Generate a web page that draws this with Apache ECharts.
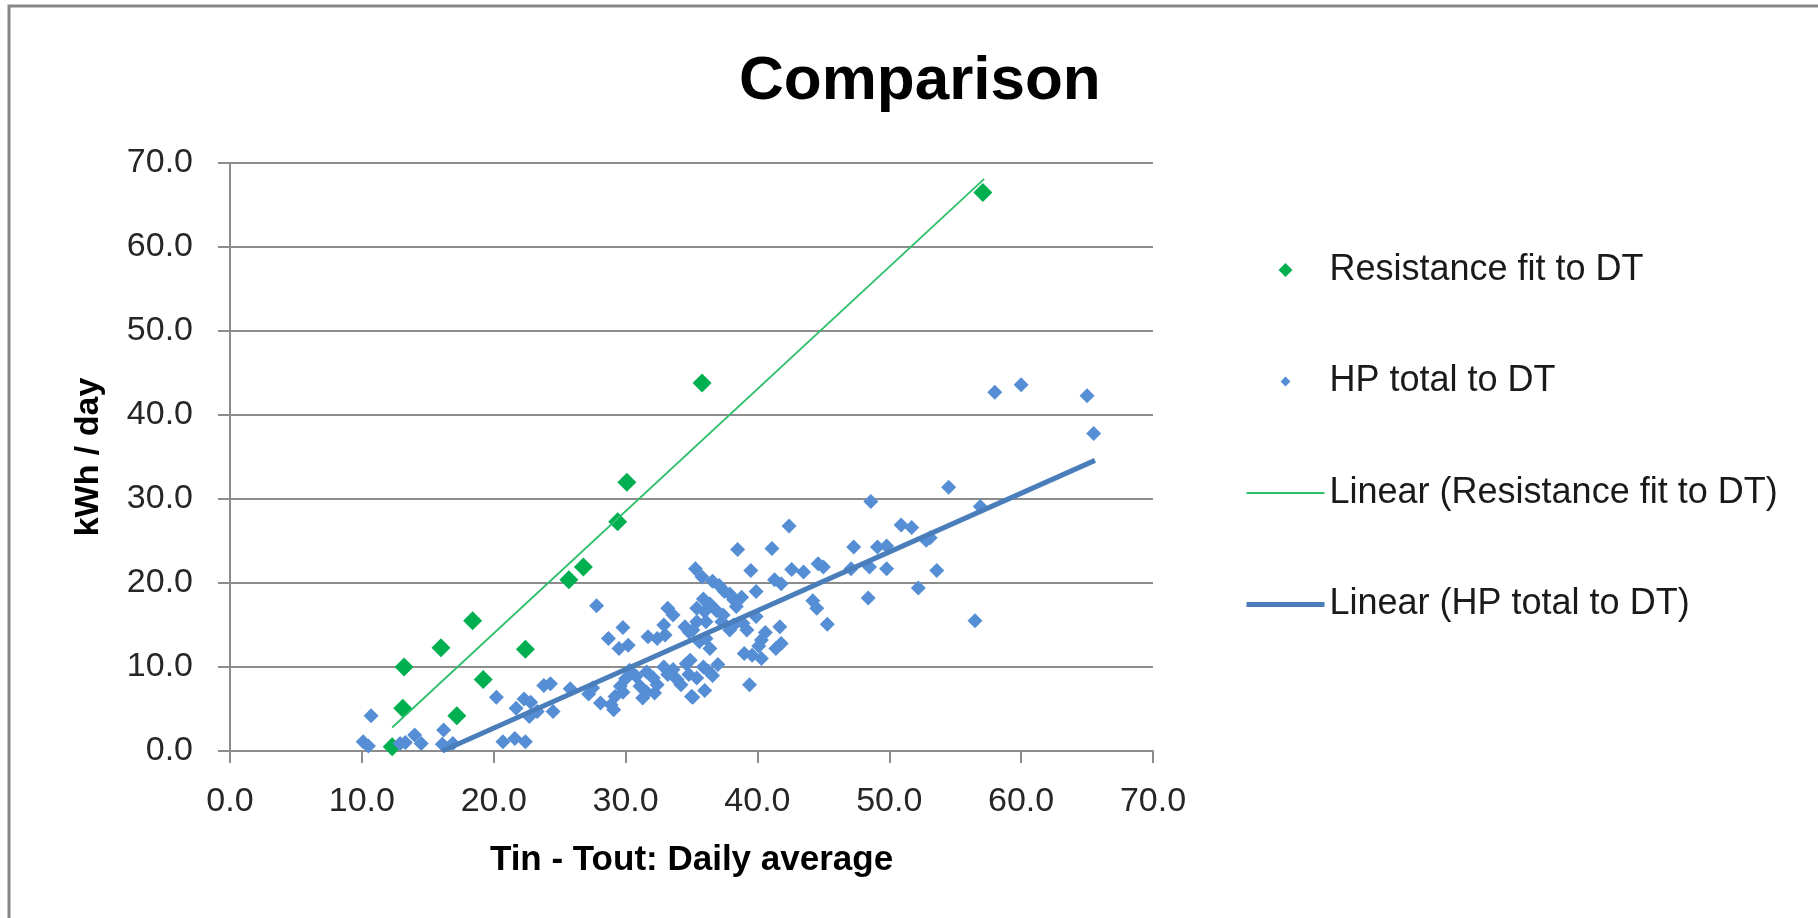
<!DOCTYPE html>
<html>
<head>
<meta charset="utf-8">
<script src="https://cdn.jsdelivr.net/npm/echarts@6/dist/echarts.min.js"></script>
<style>
html,body{margin:0;padding:0;background:#fff;}
#c{width:1818px;height:918px;}
</style>
</head>
<body>
<div id="c"></div>
<script>
// ---------- data ----------
const chartTitle = 'Comparison';
const xAxisTitle = 'Tin - Tout: Daily average';
const yAxisTitle = 'kWh / day';
const seriesNames = ['Resistance fit to DT', 'HP total to DT', 'Linear (Resistance fit to DT)', 'Linear (HP total to DT)'];

const resX = [12.3, 13.1, 13.2, 16.0, 17.2, 18.4, 19.2, 22.4, 25.7, 26.8, 29.4, 30.1, 35.8, 57.1];
const resY = [0.5, 5.1, 10.0, 12.3, 4.2, 15.5, 8.5, 12.1, 20.4, 21.9, 27.3, 32.0, 43.8, 66.5];

const hpX = [
  10.1, 10.5, 10.7, 12.9, 13.3, 14.0, 14.5, 16.2, 16.1, 16.9,
  20.2, 20.7, 21.6, 22.4, 21.7, 22.3, 22.8, 22.7, 23.3, 23.8,
  24.3, 24.5, 25.8, 27.2, 27.5, 28.1, 27.8, 28.7, 29.8, 29.5,
  30.2, 31.7, 32.4, 32.9, 33.0, 33.2, 33.6, 34.5, 34.8, 28.9,
  29.2, 29.1, 29.6, 29.8, 30.3, 30.8, 31.1, 31.6, 31.3, 32.1,
  32.4, 32.2, 32.9, 33.2, 33.6, 33.9, 34.6, 34.8, 35.0, 34.2,
  31.6, 30.0,
  35.3, 35.8, 36.6, 37.1, 37.5, 37.9, 35.9, 36.4,
  38.2, 38.8, 39.9, 35.4, 36.0, 36.9, 37.4, 38.4, 35.4, 36.1,
  37.3, 38.2, 38.9, 39.2, 39.9, 37.9, 35.1, 35.6, 36.4, 36.1,
  41.7, 40.6, 40.3, 40.1, 41.8, 41.4, 39.0, 39.6, 40.3, 39.4,
  34.9, 35.9, 37.0, 36.3, 36.6, 35.4, 36.0, 35.1,
  38.5, 41.1, 42.4, 39.5, 42.6, 43.5, 44.6, 45.0, 41.3, 41.8,
  44.2, 44.5, 45.3, 47.3, 48.6, 49.1, 49.8, 50.9, 51.7, 52.8,
  53.1, 47.1, 48.5, 49.8, 53.6, 52.2, 48.4, 54.5, 56.9, 56.5,
  58.0, 60.0, 65.0, 65.5
];
const hpY = [
  1.1, 0.6, 4.2, 0.9, 1.0, 1.9, 0.9, 2.5, 0.8, 0.9,
  6.4, 1.1, 1.5, 1.1, 5.1, 6.2, 5.8, 4.1, 4.7, 7.8,
  8.0, 4.7, 7.4, 6.8, 7.5, 5.7, 17.3, 13.4, 14.7, 12.2,
  12.6, 13.6, 13.4, 15.0, 13.8, 17.0, 16.2, 14.8, 14.2, 5.5,
  6.5, 4.9, 7.7, 7.0, 9.6, 8.9, 7.7, 7.0, 6.3, 8.7,
  7.9, 6.9, 10.0, 9.1, 9.7, 8.5, 10.4, 9.1, 6.5, 7.9,
  9.4, 8.6,
  21.7, 20.7, 20.2, 19.7, 19.0, 18.7, 18.1, 17.5,
  18.0, 18.3, 19.0, 17.0, 16.6, 16.7, 16.2, 17.2, 15.4, 15.4,
  15.4, 15.0, 15.2, 14.4, 16.0, 14.4, 14.4, 13.0, 12.2, 13.4,
  14.8, 14.1, 13.2, 12.5, 12.8, 12.2, 11.6, 11.4, 11.0, 7.9,
  10.8, 10.0, 10.3, 9.5, 9.0, 8.7, 7.2, 6.4,
  24.0, 24.1, 26.8, 21.5, 21.6, 21.3, 22.3, 21.9, 20.4, 19.9,
  17.9, 17.0, 15.1, 24.3, 29.7, 24.3, 24.4, 26.9, 26.6, 25.1,
  25.4, 21.7, 21.9, 21.7, 21.5, 19.4, 18.2, 31.4, 29.1, 15.5,
  42.7, 43.6, 42.3, 37.8
];

// trendline end points as drawn in the reference
const resTrendX = [12.3, 57.2];
const resTrendY = [2.8, 68.1];
const hpTrendX = [16.1, 65.6];
const hpTrendY = [0.0, 34.6];

const axisMin = 0, axisMax = 70, axisStep = 10;

// ---------- chart ----------
const FONT = 'Liberation Sans, Arial, sans-serif';
const GRID_COLOR = '#8c8c8c';
const pairs = (xs, ys) => xs.map((x, i) => [x, ys[i]]);

const chart = echarts.init(document.getElementById('c'), null, {renderer: 'canvas'});
chart.setOption({
  animation: false,
  backgroundColor: '#ffffff',
  title: {
    text: chartTitle, left: 739, top: 51, padding: 0,
    textStyle: {fontFamily: FONT, fontSize: 62, fontWeight: 'bold', color: '#000'}
  },
  graphic: [{
    type: 'rect', silent: true, z: -1,
    shape: {x: 9, y: 6, width: 1840, height: 960},
    style: {fill: 'none', stroke: '#878787', lineWidth: 3}
  }],
  grid: {left: 230, top: 163, width: 923, height: 588, containLabel: false},
  legend: {
    orient: 'vertical', left: 1244, top: 250, padding: 0,
    itemWidth: 78, itemHeight: 14, itemGap: 71.5,
    selectedMode: false,
    textStyle: {fontFamily: FONT, fontSize: 36, color: '#1a1a1a', lineHeight: 40},
    data: [
      {name: seriesNames[0], icon: 'path://M50,0 L100,50 L50,100 L0,50 Z'},
      {name: seriesNames[1], icon: 'path://M0,0 M100,100 M50,15 L85,50 L50,85 L15,50 Z'},
      {name: seriesNames[2], itemStyle: {color: 'rgba(0,0,0,0)', borderWidth: 0}, lineStyle: {width: 2, color: '#2EBF6A'}},
      {name: seriesNames[3], itemStyle: {color: 'rgba(0,0,0,0)', borderWidth: 0}, lineStyle: {width: 5, color: '#4A7EBB'}}
    ]
  },
  xAxis: {
    type: 'value', min: axisMin, max: axisMax, interval: axisStep,
    name: xAxisTitle, nameLocation: 'middle', nameGap: 92,
    nameTextStyle: {fontFamily: FONT, fontSize: 35, fontWeight: 'bold', color: '#000'},
    axisLine: {show: true, onZero: false, lineStyle: {color: GRID_COLOR, width: 2}},
    axisTick: {show: true, inside: false, length: 12, lineStyle: {color: GRID_COLOR, width: 2}},
    axisLabel: {margin: 34, fontFamily: FONT, fontSize: 34, color: '#262626', formatter: v => v.toFixed(1)},
    splitLine: {show: false}
  },
  yAxis: {
    type: 'value', min: axisMin, max: axisMax, interval: axisStep,
    name: yAxisTitle, nameLocation: 'middle', nameGap: 124, nameRotate: 90,
    nameTextStyle: {fontFamily: FONT, fontSize: 34, fontWeight: 'bold', color: '#000'},
    axisLine: {show: true, lineStyle: {color: GRID_COLOR, width: 2}},
    axisTick: {show: true, inside: false, length: 12, lineStyle: {color: GRID_COLOR, width: 2}},
    axisLabel: {margin: 37, fontFamily: FONT, fontSize: 34, color: '#262626', formatter: v => v.toFixed(1)},
    splitLine: {show: true, lineStyle: {color: GRID_COLOR, width: 2}}
  },
  series: [
    {
      name: seriesNames[0], type: 'scatter', symbol: 'diamond', symbolSize: 19,
      itemStyle: {color: '#00B050', opacity: 1}, z: 2,
      data: pairs(resX, resY)
    },
    {
      name: seriesNames[1], type: 'scatter', symbol: 'diamond', symbolSize: 15,
      itemStyle: {color: '#558ED5', opacity: 1}, z: 3,
      data: pairs(hpX, hpY)
    },
    {
      name: seriesNames[2], type: 'line', symbol: 'none', silent: true, clip: true,
      color: '#2EBF6A', lineStyle: {color: '#2EBF6A', width: 1.8}, z: 4,
      data: pairs(resTrendX, resTrendY)
    },
    {
      name: seriesNames[3], type: 'line', symbol: 'none', silent: true, clip: true,
      color: '#4A7EBB', lineStyle: {color: '#4A7EBB', width: 5}, z: 5,
      data: pairs(hpTrendX, hpTrendY)
    }
  ]
});
</script>
</body>
</html>
